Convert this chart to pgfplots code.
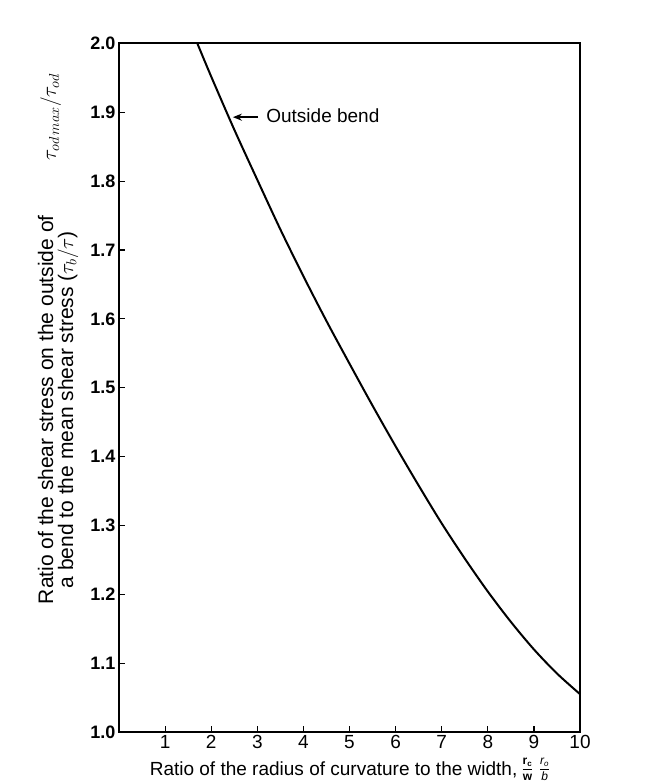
\documentclass[border=0pt]{standalone}
\usepackage{fontspec}
\setmainfont{Liberation Sans}
\usepackage{pgfplots}
\pgfplotsset{compat=1.18}
\usetikzlibrary{arrows.meta}

% small stacked fraction in text font
\newcommand\stackfrac[2]{\raisebox{0.3ex}{\fontsize{12}{12}\selectfont\begin{tabular}{@{}c@{}}#1\\[1pt]\hline\rule{0pt}{10.5pt}#2\end{tabular}}}

\pgfplotstableread{
x     y
1.70  2.000
2.00  1.952
2.50  1.875
3.00  1.802
3.50  1.730
4.00  1.662
4.50  1.597
5.00  1.535
5.50  1.474
6.00  1.415
6.50  1.358
7.00  1.303
7.50  1.252
8.00  1.204
8.50  1.160
9.00  1.120
9.50  1.085
10.00 1.055
}\outside

\begin{document}
\begin{tikzpicture}
\path[use as bounding box] (-119pt,-51pt) rectangle (534pt,732pt);
\begin{axis}[
  at={(0,0)}, anchor=south west,
  scale only axis,
  width=461pt, height=688.5pt,
  xmin=0, xmax=10, ymin=1, ymax=2,
  xtick={1,2,3,4,5,6,7,8,9,10},
  ytick={1,1.1,1.2,1.3,1.4,1.5,1.6,1.7,1.8,1.9,2},
  yticklabels={1.0,1.1,1.2,1.3,1.4,1.5,1.6,1.7,1.8,1.9,2.0},
  xtick pos=bottom, ytick pos=left,
  tick align=inside,
  major tick length=6pt,
  axis line style={line width=2pt},
  every tick/.style={black, line width=1.2pt},
  /pgf/number format/assume math mode=true,
  xticklabel style={font=\fontsize{19}{19}\selectfont, inner sep=3pt},
  yticklabel style={font=\fontsize{18}{18}\selectfont\bfseries},
  xlabel={Ratio of the radius of curvature to the width, \stackfrac{\textbf{r\textsubscript{c}}}{\textbf{w}}\hspace{8pt}\stackfrac{\textit{r\textsubscript{o}}}{\textit{b}}},
  xlabel style={font=\fontsize{19}{19}\selectfont, yshift=-1pt},
  ylabel={Ratio of the shear stress on the outside of\\a bend to the mean shear stress ($\tau_b/\tau$)},
  ylabel style={font=\fontsize{21}{20}\selectfont, align=center, at={(axis description cs:-0.132,0.468)}, anchor=center},
  clip=false,
]
\addplot[black, line width=2pt, smooth] table[x=x, y=y] {\outside};

\draw[line width=1.5pt, -{Stealth[length=9pt,width=7pt]}] (axis cs:3.02,1.893) -- (axis cs:2.47,1.893);
\node[anchor=west, font=\fontsize{19}{19}\selectfont] at (axis cs:3.12,1.895) {Outside bend};
\node[rotate=90, font=\fontsize{22}{22}\selectfont] at (axis description cs:-0.148,0.893) {$\tau_{od\,max}/\tau_{od}$};
\end{axis}
\end{tikzpicture}
\end{document}
